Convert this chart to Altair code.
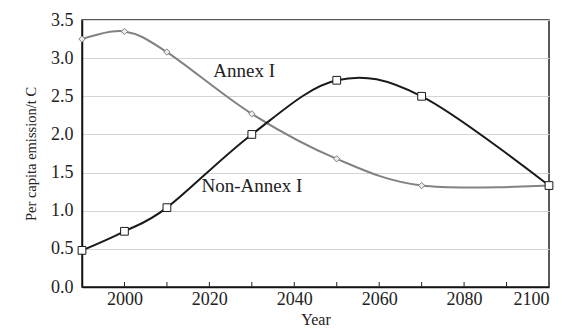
import altair as alt
import pandas as pd

years = [1990, 2000, 2010, 2030, 2050, 2070, 2100]
annex_i = [3.25, 3.35, 3.08, 2.27, 1.68, 1.33, 1.33]
non_annex_i = [0.48, 0.73, 1.04, 2.00, 2.71, 2.50, 1.33]

x_ticks = list(range(1990, 2101, 10))
inner_ticks = list(range(2000, 2100, 10))
y_ticks = [0.0, 0.5, 1.0, 1.5, 2.0, 2.5, 3.0, 3.5]

labels_text = ["Annex I", "Non-Annex I"]
labels_year = [2028.2, 2030.0]
labels_value = [2.83, 1.32]

FONT = "Liberation Serif"
H = 267

df_a = pd.DataFrame({"Year": years, "v": annex_i})
df_n = pd.DataFrame({"Year": years, "v": non_annex_i})
df_l = pd.DataFrame({"Year": labels_year, "v": labels_value, "t": labels_text})
df_t = pd.DataFrame({"Year": inner_ticks, "v": [0.0] * len(inner_ticks)})

xs = alt.Scale(domain=[1990, 2100], nice=False, zero=False)
ys = alt.Scale(domain=[0, 3.5], nice=False)

x_enc = alt.X("Year:Q", scale=xs, axis=alt.Axis(
    title="Year", values=x_ticks, format="d",
    labelExpr="datum.value % 20 == 0 ? datum.label : ''",
    grid=False, ticks=False, labelFont=FONT, titleFont=FONT,
    labelFontSize=18, titleFontSize=16, labelColor="#222", titleColor="#222",
    titleFontWeight="normal",
    labelPadding=3, domainColor="#111", domainWidth=1.5,
    titlePadding=3))
y_enc = alt.Y("v:Q", scale=ys, axis=alt.Axis(
    title="Per capita emission/t C", values=y_ticks, format=".1f",
    grid=True, gridColor="#d4d4d4", gridWidth=1, ticks=False,
    labelFont=FONT, titleFont=FONT, labelFontSize=18, titleFontSize=14.5,
    labelColor="#222", titleColor="#222", titleFontWeight="normal",
    labelPadding=9, domainColor="#111", domainWidth=1.5, titlePadding=12))

line_a = alt.Chart(df_a).mark_line(color="#828282", strokeWidth=2, interpolate="cardinal").encode(x=x_enc, y=y_enc)
pts_a = alt.Chart(df_a).mark_point(shape="diamond", size=40, stroke="#828282", fill="#ececec", filled=False, fillOpacity=1, strokeWidth=1, opacity=1).encode(x=x_enc, y=y_enc)
line_n = alt.Chart(df_n).mark_line(color="#1a1a1a", strokeWidth=2, interpolate="cardinal").encode(x=x_enc, y=y_enc)
pts_n = alt.Chart(df_n).mark_point(shape="square", size=60, stroke="#1a1a1a", fill="white", filled=False, fillOpacity=1, strokeWidth=1, opacity=1).encode(x=x_enc, y=y_enc)
txt = alt.Chart(df_l).mark_text(font=FONT, fontSize=19, color="#222").encode(x=x_enc, y=y_enc, text="t:N")
ticks = alt.Chart(df_t).mark_rule(color="#222", strokeWidth=1).encode(
    x=x_enc, y=alt.value(H), y2=alt.value(H - 5))

chart = alt.layer(line_a, line_n, ticks, pts_a, pts_n, txt).properties(
    width=467, height=H, background="white",
    autosize=alt.AutoSizeParams(type="none"),
    padding={"left": 74, "top": 12, "right": 8, "bottom": 43},
).configure_view(stroke="#222", strokeWidth=1.5, fill="white")

chart.save("out.html", embed_options={"renderer": "svg", "actions": False})
